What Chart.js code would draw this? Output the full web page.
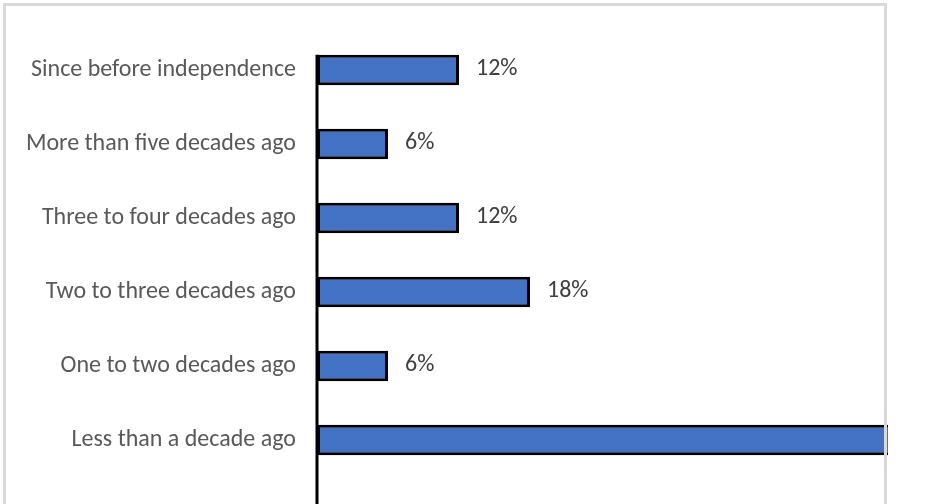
<!DOCTYPE html>
<html>
<head>
<meta charset="utf-8">
<script src="https://cdn.jsdelivr.net/npm/chart.js@4/dist/chart.umd.min.js"></script>
<style>
    html, body { margin: 0; padding: 0; background: #fff; }
    #wrap { position: relative; width: 939px; height: 504px; overflow: hidden; }
    #frame {
        position: absolute; left: 3px; top: 3px; width: 884px; height: 520px;
        box-sizing: border-box; border: 3px solid #d9d9d9; border-bottom: none;
        pointer-events: none; z-index: 2;
    }
    canvas { position: absolute; left: 0; top: 0; }
</style>
</head>
<body>
<div id="wrap">
    <canvas id="chart" width="939" height="504"></canvas>
    <div id="frame"></div>
</div>
<script>
// Data
const categories = [
    'Since before independence',
    'More than five decades ago',
    'Three to four decades ago',
    'Two to three decades ago',
    'One to two decades ago',
    'Less than a decade ago'
];
const shares = [12, 6, 12, 18, 6, 50];
const axisMax = 48;

const fontFamily = "Carlito, 'Open Sans', sans-serif";

// Vertical axis line: from the top of the first bar down to the bottom
const axisLinePlugin = {
    id: 'axisLine',
    afterDatasetsDraw(chart) {
        const bar = chart.getDatasetMeta(0).data[0];
        const ctx = chart.ctx;
        ctx.save();
        ctx.strokeStyle = '#000';
        ctx.lineWidth = 3;
        ctx.beginPath();
        ctx.moveTo(chart.chartArea.left, bar.y - bar.height / 2);
        ctx.lineTo(chart.chartArea.left, chart.height);
        ctx.stroke();
        ctx.restore();
    }
};

// Percent labels to the right of each bar
const valueLabelPlugin = {
    id: 'valueLabels',
    afterDatasetsDraw(chart) {
        const ctx = chart.ctx;
        const area = chart.chartArea;
        ctx.save();
        ctx.beginPath();
        ctx.rect(0, 0, area.right, chart.height);
        ctx.clip();
        ctx.font = '24px ' + fontFamily;
        ctx.fillStyle = '#404040';
        ctx.textAlign = 'left';
        ctx.textBaseline = 'middle';
        chart.getDatasetMeta(0).data.forEach((bar, i) => {
            ctx.fillText(shares[i] + '%', bar.x + 17, bar.y - 1);
        });
        ctx.restore();
    }
};

new Chart(document.getElementById('chart'), {
    type: 'bar',
    data: {
        labels: categories,
        datasets: [{
            data: shares,
            backgroundColor: '#4472C4',
            borderColor: '#000',
            borderWidth: 3,
            borderSkipped: false,
            barPercentage: 0.41,
            categoryPercentage: 1,
            clip: { left: false, top: false, bottom: false, right: 3 }
        }]
    },
    options: {
        indexAxis: 'y',
        responsive: false,
        animation: false,
        layout: { padding: { top: 33, bottom: 27, left: 0, right: 54 } },
        plugins: {
            legend: { display: false },
            tooltip: { enabled: false }
        },
        scales: {
            x: {
                display: false,
                min: 0,
                max: axisMax
            },
            y: {
                grid: { display: false },
                border: { display: false },
                ticks: {
                    color: '#595959',
                    padding: 13,
                    font: { family: fontFamily, size: 24 }
                },
                afterFit(scale) {
                    scale.width = 317;
                    scale.paddingTop = 0;
                    scale.paddingBottom = 0;
                }
            }
        }
    },
    plugins: [axisLinePlugin, valueLabelPlugin]
});
</script>
</body>
</html>
